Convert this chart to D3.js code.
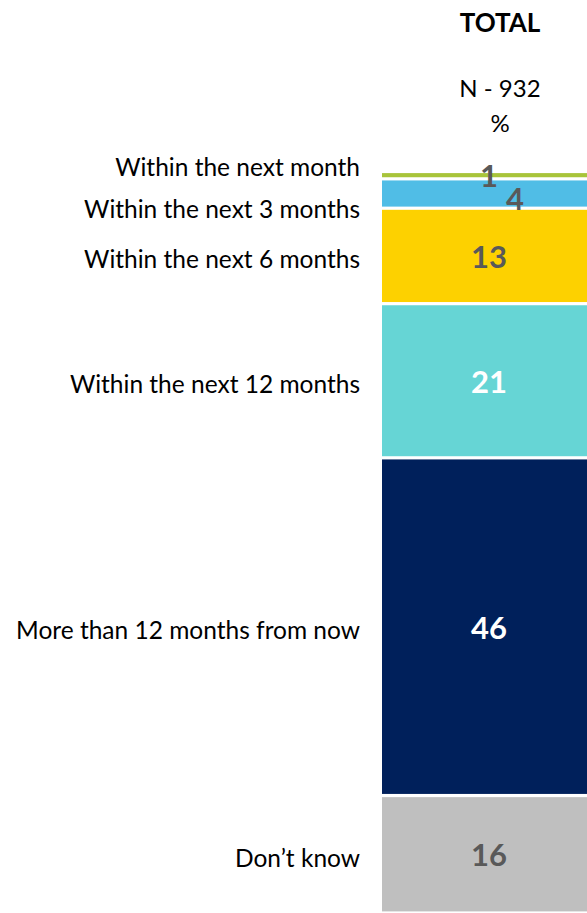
<!DOCTYPE html>
<html>
<head>
<meta charset="utf-8">
<script src="https://cdn.jsdelivr.net/npm/d3@7"></script>
<style>
  body { margin: 0; background: #fff; }
  svg { display: block; font-family: Lato, "Open Sans", sans-serif; }
</style>
</head>
<body>
<svg id="chart"></svg>
<script>
// chart data
const categories = [
  "Within the next month",
  "Within the next 3 months",
  "Within the next 6 months",
  "Within the next 12 months",
  "More than 12 months from now",
  "Don\u2019t know"
];
const values = [1, 4, 13, 21, 46, 16];
const colors = ["#a8c43a", "#50bde6", "#fdd100", "#66d5d5", "#00205b", "#bfbfbf"];
const labelColors = ["#595959", "#595959", "#595959", "#ffffff", "#ffffff", "#595959"];
const column = "TOTAL";
const headerLines = ["N - 932", "%"];

const width = 587, height = 913;

let svg = d3.select("#chart").attr("width", width).attr("height", height);

// stacked offsets
let stack = [];
let acc = 0;
values.forEach((v, i) => {
  stack.push({ name: categories[i], value: v, y0: acc, y1: acc + v, color: colors[i], label: labelColors[i] });
  acc += v;
});

let x = d3.scaleBand().domain([column]).range([382, 596]);
let y = d3.scaleLinear().domain([0, acc]).range([171.5, 913]);

let cx = x(column) + x.bandwidth() / 2;

// bars, with a white gap between the pieces
svg.append("g").selectAll("rect")
  .data(stack)
  .join("rect")
  .attr("x", x(column))
  .attr("width", x.bandwidth())
  .attr("y", d => y(d.y0) + 1.6)
  .attr("height", d => Math.max(0, y(d.y1) - y(d.y0) - 3.2))
  .attr("fill", d => d.color);

// value labels (tiny pieces get nudged sideways so they don't collide)
let small = 0;
svg.append("g").selectAll("text")
  .data(stack)
  .join("text")
  .attr("x", d => {
    if (y(d.y1) - y(d.y0) < 30) return cx + 26 * (small++ % 2);
    return cx;
  })
  .attr("y", d => {
    let h = y(d.y1) - y(d.y0);
    return (y(d.y0) + y(d.y1)) / 2 + (h < 30 && h > 10 ? 4 : 0);
  })
  .attr("text-anchor", "middle")
  .attr("dominant-baseline", "central")
  .style("font-size", "31px")
  .style("font-weight", "bold")
  .style("fill", d => d.label)
  .text(d => d.value);

// category labels, spread apart where pieces are thin
let pos = stack.map(d => (y(d.y0) + y(d.y1)) / 2 + 3);
const minGap = 41.5;
for (let k = 0; k < 50; k++) {
  for (let i = 1; i < pos.length; i++) {
    let gap = pos[i] - pos[i - 1];
    if (gap < minGap) {
      let shift = (minGap - gap) / 2;
      pos[i - 1] -= shift;
      pos[i] += shift;
    }
  }
}

svg.append("g").selectAll("text")
  .data(stack)
  .join("text")
  .attr("x", 360)
  .attr("y", (d, i) => pos[i])
  .attr("text-anchor", "end")
  .attr("dominant-baseline", "central")
  .style("font-size", "24.5px")
  .style("fill", "#000")
  .text(d => d.name);

// header
let hx = cx + 11;
svg.append("text")
  .attr("x", hx).attr("y", 22)
  .attr("text-anchor", "middle")
  .attr("dominant-baseline", "central")
  .style("font-size", "26px")
  .style("font-weight", "bold")
  .text(column);

svg.append("g").selectAll("text")
  .data(headerLines)
  .join("text")
  .attr("x", hx)
  .attr("y", (d, i) => 87 + i * 35)
  .attr("text-anchor", "middle")
  .attr("dominant-baseline", "central")
  .style("font-size", "24px")
  .text(d => d);
</script>
</body>
</html>
